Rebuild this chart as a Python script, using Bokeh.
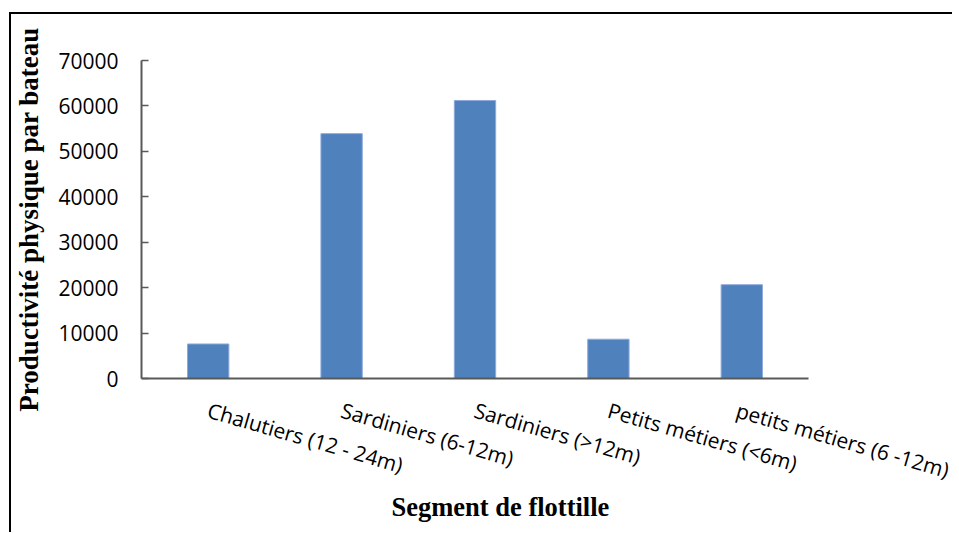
from bokeh.plotting import figure
from bokeh.models import Title, FactorRange, Range1d, FixedTicker, NumeralTickFormatter
from bokeh.embed import file_html
from bokeh.resources import INLINE

categories = ["Chalutiers (12 - 24m)", "Sardiniers (6-12m)", "Sardiniers (>12m)",
              "Petits métiers (<6m)", "petits métiers (6 -12m)"]
productivite = [7600, 53900, 61200, 8650, 20650]
y_ticks = [0, 10000, 20000, 30000, 40000, 50000, 60000, 70000]

p = figure(x_range=FactorRange(*categories), y_range=Range1d(0, 70000),
           frame_width=667, frame_height=318,
           min_border_left=129, min_border_top=46, min_border_right=144, min_border_bottom=154,
           output_backend="svg", toolbar_location=None)
p.styles = {"border-top": "2px solid black", "border-left": "2px solid black",
            "margin-top": "12px", "margin-left": "9px"}

p.vbar(x=categories, top=productivite, width=0.31, fill_color="#4F81BD",
       line_color="#8FAADC", line_width=1)

p.outline_line_color = None
p.xgrid.grid_line_color = None
p.ygrid.grid_line_color = None
p.background_fill_color = "white"
p.border_fill_color = "white"

yax = p.yaxis[0]
yax.ticker = FixedTicker(ticks=y_ticks)
yax.formatter = NumeralTickFormatter(format="0")
yax.axis_line_color = "#595959"
yax.axis_line_width = 2
yax.major_tick_line_color = "#595959"
yax.major_tick_line_width = 1.5
yax.major_tick_in = 7
yax.major_tick_out = 0
yax.minor_tick_line_color = None
yax.major_label_standoff = 23
yax.major_label_text_font = "Open Sans"
yax.major_label_text_font_size = "21px"
yax.major_label_text_color = "black"
yax.axis_label = "Productivité physique par bateau"
yax.axis_label_text_font = "Liberation Serif"
yax.axis_label_text_font_style = "bold"
yax.axis_label_text_font_size = "27px"
yax.axis_label_text_color = "black"
yax.axis_label_standoff = 11

xax = p.xaxis[0]
xax.axis_line_color = "#595959"
xax.axis_line_width = 2
xax.major_tick_line_color = None
xax.major_tick_in = 0
xax.major_tick_out = 0
xax.major_label_orientation = -0.28
xax.major_label_standoff = 31
xax.major_label_text_font = "Open Sans"
xax.major_label_text_font_size = "21px"
xax.major_label_text_color = "black"

p.add_layout(Title(text="Segment de flottille", align="left", offset=250, standoff=-22,
                   text_font="Liberation Serif", text_font_style="bold",
                   text_font_size="26.5px", text_color="black"), "below")

open("out.html", "w").write(file_html(p, INLINE))
